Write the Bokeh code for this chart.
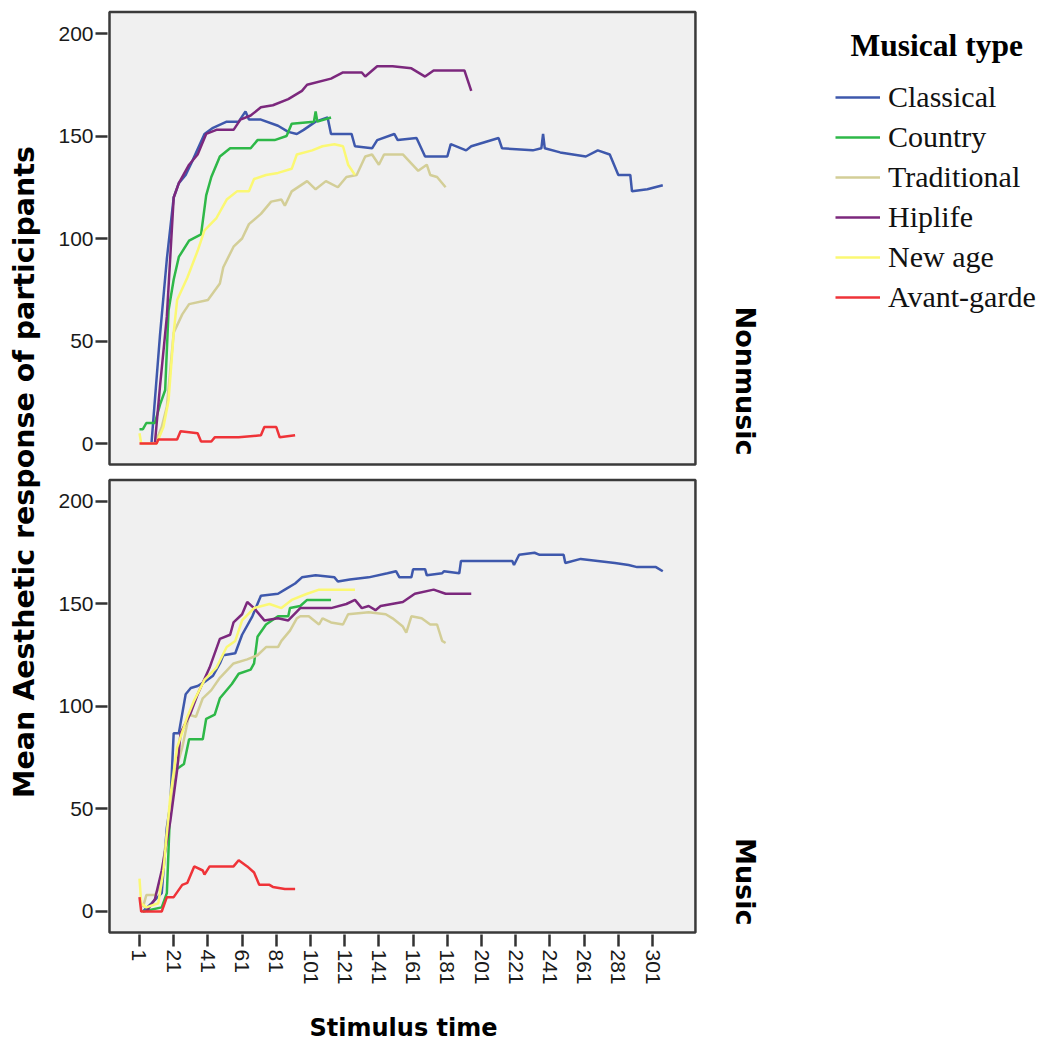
import math
from bokeh.plotting import figure
from bokeh.layouts import column
from bokeh.models import (Range1d, FixedTicker, BoxAnnotation, Label, Legend,
                          LegendItem)
from bokeh.embed import file_html
from bokeh.resources import INLINE

# ---------------- data ----------------
series_names = ["Classical", "Country", "Traditional", "Hiplife", "New age", "Avant-garde"]
series_colors = ["#3e58ac", "#2eb848", "#d3ce97", "#7c287d", "#fbf873", "#ef3338"]
panel_names = ["Nonmusic", "Music"]

x_ticks = [1, 21, 41, 61, 81, 101, 121, 141, 161, 181, 201, 221, 241, 261, 281, 301]
y_ticks = [0, 50, 100, 150, 200]

# Nonmusic panel
classical_nm_t = [8, 13, 17, 21, 24, 28, 32, 39, 44, 52, 59, 63, 65, 67, 72, 82, 88, 93, 97, 104, 111, 113,
                  125, 127, 137, 140, 150, 152, 163, 168, 181, 183, 192, 195, 211, 213, 231, 236, 237, 238,
                  247, 262, 269, 276, 281, 288, 289, 298, 307]
classical_nm_v = [0, 53, 90, 120, 127, 131, 138, 151, 154, 157, 157, 162, 158, 158, 158, 155, 152, 151, 153,
                  157, 159, 151, 151, 145, 144, 148, 151, 148, 149, 140, 140, 146, 143, 145, 149, 144, 143,
                  144, 151, 144, 142, 140, 143, 141, 131, 131, 123, 124, 126]
country_nm_t = [1, 3, 5, 10, 13, 16, 18, 21, 24, 30, 37, 40, 43, 48, 54, 66, 70, 80, 87, 90, 103, 104, 105, 113]
country_nm_v = [7, 7, 10, 10, 19, 26, 65, 80, 91, 99, 102, 121, 130, 140, 144, 144, 148, 148, 150, 156, 157,
                162, 157, 159]
traditional_nm_t = [10, 14, 17, 21, 26, 30, 41, 48, 50, 56, 61, 65, 72, 78, 84, 86, 90, 99, 104, 110, 117,
                    122, 128, 133, 137, 141, 144, 155, 164, 169, 171, 175, 180]
traditional_nm_v = [0, 8, 18, 54, 63, 68, 70, 78, 86, 96, 100, 107, 112, 118, 119, 116, 123, 128, 124, 128,
                    125, 130, 131, 140, 141, 136, 141, 141, 133, 136, 131, 130, 125]
hiplife_nm_t = [10, 13, 17, 21, 24, 30, 35, 40, 46, 56, 60, 66, 72, 79, 88, 96, 99, 113, 120, 131, 133, 140,
                149, 160, 168, 173, 191, 193, 195]
hiplife_nm_v = [0, 28, 62, 120, 127, 136, 141, 151, 153, 153, 158, 160, 164, 165, 168, 172, 175, 178, 181,
                181, 179, 184, 184, 183, 179, 182, 182, 177, 172]
newage_nm_t = [1, 2, 11, 15, 18, 21, 23, 29, 35, 39, 46, 52, 58, 65, 68, 75, 82, 90, 93, 102, 108, 115, 120,
               123, 127]
newage_nm_v = [5, 0, 0, 8, 21, 54, 70, 81, 94, 104, 110, 119, 123, 123, 129, 131, 132, 134, 141, 143, 145,
               146, 145, 136, 131]
avant_nm_t = [1, 11, 12, 23, 25, 35, 37, 43, 45, 59, 72, 74, 81, 83, 92]
avant_nm_v = [0, 0, 2, 2, 6, 5, 1, 1, 3, 3, 4, 8, 8, 3, 4]

# Music panel
classical_m_t = [3, 8, 14, 17, 19, 21, 24, 28, 31, 35, 39, 44, 48, 50, 57, 61, 67, 72, 82, 86, 92, 96, 104,
                 115, 117, 124, 135, 146, 151, 153, 160, 161, 168, 169, 178, 179, 188, 189, 202, 219, 220,
                 223, 232, 235, 249, 250, 259, 269, 279, 287, 292, 303, 307]
classical_m_v = [0, 4, 9, 41, 52, 87, 87, 106, 109, 110, 112, 115, 121, 125, 126, 135, 144, 154, 155, 157,
                 160, 163, 164, 163, 161, 162, 163, 165, 166, 163, 163, 167, 167, 164, 165, 166, 165, 171,
                 171, 171, 169, 174, 175, 174, 174, 170, 172, 171, 170, 169, 168, 168, 166]
country_m_t = [3, 14, 17, 19, 22, 27, 30, 38, 40, 45, 48, 55, 59, 66, 68, 70, 75, 82, 88, 89, 95, 99, 113]
country_m_v = [0, 2, 9, 52, 69, 72, 84, 84, 94, 96, 104, 111, 116, 118, 121, 134, 140, 144, 144, 148, 149,
               152, 152]
traditional_m_t = [3, 5, 10, 13, 18, 21, 26, 30, 34, 38, 43, 48, 56, 64, 70, 75, 82, 84, 89, 93, 95, 100,
                   106, 108, 113, 120, 123, 135, 145, 149, 155, 157, 160, 166, 171, 175, 178, 180]
traditional_m_v = [2, 8, 8, 12, 44, 65, 80, 96, 95, 104, 108, 114, 121, 123, 125, 129, 129, 132, 137, 143,
                   144, 144, 140, 143, 141, 140, 145, 146, 145, 143, 139, 136, 144, 143, 140, 140, 132, 131]
hiplife_m_t = [5, 10, 14, 19, 23, 25, 31, 35, 42, 48, 54, 56, 61, 64, 68, 74, 82, 88, 95, 104, 113, 122, 127,
               131, 135, 139, 142, 155, 162, 173, 180, 195]
hiplife_m_v = [0, 6, 20, 44, 69, 87, 97, 106, 119, 133, 135, 141, 145, 151, 148, 142, 143, 142, 148, 148,
               148, 150, 152, 148, 149, 147, 149, 151, 155, 157, 155, 155]
newage_m_t = [1, 2, 5, 12, 15, 19, 23, 29, 33, 39, 46, 52, 57, 61, 68, 77, 84, 90, 99, 106, 117, 127]
newage_m_v = [16, 4, 2, 4, 20, 56, 80, 95, 103, 113, 119, 129, 132, 142, 148, 150, 148, 152, 155, 157, 157,
              157]
avant_m_t = [1, 2, 14, 17, 21, 26, 29, 33, 38, 39, 42, 56, 59, 64, 68, 71, 77, 79, 86, 92]
avant_m_v = [7, 0, 0, 7, 7, 13, 14, 22, 20, 18, 22, 22, 25, 22, 19, 13, 13, 12, 11, 11]

nonmusic_series = [(classical_nm_t, classical_nm_v), (country_nm_t, country_nm_v),
                   (traditional_nm_t, traditional_nm_v), (hiplife_nm_t, hiplife_nm_v),
                   (newage_nm_t, newage_nm_v), (avant_nm_t, avant_nm_v)]
music_series = [(classical_m_t, classical_m_v), (country_m_t, country_m_v),
                (traditional_m_t, traditional_m_v), (hiplife_m_t, hiplife_m_v),
                (newage_m_t, newage_m_v), (avant_m_t, avant_m_v)]

# ---------------- main figure ----------------
X_LO, X_HI = -16.54, 326.1          # panel extent on the time axis
Y_LO, Y_HI = -10.24, 210.5          # panel extent on the response axis
x_range = Range1d(-17.71, 530.8)
bottom_range = Range1d(-11.22, 440.0)
top_range = Range1d(-239.51, 211.71)
offset = round(bottom_range.start - top_range.start, 2)

FRAME_LEFT, FRAME_W = 107, 938

p = figure(frame_width=FRAME_W, frame_height=925,
           min_border_left=FRAME_LEFT, min_border_top=9, min_border_right=0, min_border_bottom=0,
           x_range=x_range, y_range=bottom_range,
           output_backend="svg", toolbar_location=None,
           background_fill_color="white", border_fill_color="white")
p.extra_y_ranges = {"top": top_range}
p.outline_line_color = None
p.xgrid.visible = False
p.ygrid.visible = False

panel_fill = "#f0f0f0"
frame_col = "#3a3a3a"
for rname in ("top", "default"):
    p.add_layout(BoxAnnotation(left=X_LO, right=X_HI, bottom=Y_LO, top=Y_HI, y_range_name=rname,
                               fill_color=panel_fill, fill_alpha=1, line_color=frame_col,
                               line_alpha=1, line_width=2.5, level="underlay"))

legend_renderers = []
for (t, v), col in zip(nonmusic_series, series_colors):
    p.line(t, v, y_range_name="top", line_color=col, line_width=2.5)
for (t, v), col in zip(music_series, series_colors):
    r = p.line(t, v, line_color=col, line_width=2.5)
    legend_renderers.append(r)

# y axis: ticks for both panels on one axis
yax = p.yaxis[0]
all_ticks = [float(v) for v in y_ticks] + [round(v + offset, 2) for v in y_ticks]
yax.ticker = FixedTicker(ticks=all_ticks)
overrides = {}
for v in y_ticks:
    overrides[float(v)] = str(v)
    overrides[round(v + offset, 2)] = str(v)
yax.major_label_overrides = overrides
yax.axis_label = "Mean Aesthetic response of participants"
yax.axis_line_color = None
yax.minor_tick_line_color = None
yax.major_tick_out = 12
yax.major_tick_in = 0
yax.major_tick_line_width = 2.5
yax.major_tick_line_color = "#333333"
yax.major_label_standoff = 2
yax.major_label_text_font = "Liberation Sans"
yax.major_label_text_font_size = "21px"
yax.major_label_text_color = "#1a1a1a"
yax.axis_label_standoff = 14
yax.axis_label_text_font = "DejaVu Sans"
yax.axis_label_text_font_style = "bold"
yax.axis_label_text_font_size = "28.5px"
yax.axis_label_text_color = "#000000"

xax = p.xaxis[0]
xax.ticker = FixedTicker(ticks=x_ticks)
xax.axis_line_color = None
xax.minor_tick_line_color = None
xax.major_tick_out = 12
xax.major_tick_in = 0
xax.major_tick_line_width = 2.5
xax.major_tick_line_color = "#333333"
xax.major_label_orientation = -math.pi / 2
xax.major_label_standoff = 3
xax.major_label_text_font = "Liberation Sans"
xax.major_label_text_font_size = "21px"
xax.major_label_text_color = "#1a1a1a"

# facet labels
p.add_layout(Label(x=355.4, y=-5.9, y_range_name="top", text=panel_names[0], angle=-math.pi / 2,
                   text_align="right", text_baseline="middle", text_font="DejaVu Sans",
                   text_font_style="bold", text_font_size="27px", text_color="#000000"))
p.add_layout(Label(x=355.4, y=-6.8, text=panel_names[1], angle=-math.pi / 2,
                   text_align="right", text_baseline="middle", text_font="DejaVu Sans",
                   text_font_style="bold", text_font_size="27px", text_color="#000000"))

# legend
p.add_layout(Label(x=416.8, y=422.4, text="Musical type", text_align="left", text_baseline="middle",
                   text_font="Liberation Serif", text_font_style="bold", text_font_size="31.5px",
                   text_color="#000000"))
legend = Legend(items=[LegendItem(label=n, renderers=[r]) for n, r in zip(series_names, legend_renderers)],
                location=(728, 620), glyph_width=45, glyph_height=34, label_height=34,
                label_standoff=8, spacing=6, padding=0, margin=0,
                label_text_font="Liberation Serif", label_text_font_size="30px",
                label_text_color="#111111", border_line_color=None, background_fill_alpha=0)
p.add_layout(legend)

# ---------------- footer strip: x axis title, centred under the panels ----------------
# its frame lines up with the main frame; x range in page pixels
FOOT_H = 56
foot = figure(title=None, frame_width=FRAME_W, frame_height=FOOT_H,
              min_border_left=0, min_border_top=0, min_border_right=0, min_border_bottom=0,
              x_range=Range1d(FRAME_LEFT, FRAME_LEFT + FRAME_W), y_range=Range1d(0, FOOT_H),
              x_axis_location=None, y_axis_location=None,
              output_backend="svg", toolbar_location=None,
              background_fill_color="white", border_fill_color="white")
foot.outline_line_color = None
foot.xgrid.visible = False
foot.ygrid.visible = False
foot.add_layout(Label(x=403, y=16, text="Stimulus time", text_align="center", text_baseline="middle",
                      text_font="DejaVu Sans", text_font_style="bold", text_font_size="24px",
                      text_color="#000000"))

layout = column(p, foot)
open("out.html", "w").write(file_html(layout, INLINE))
